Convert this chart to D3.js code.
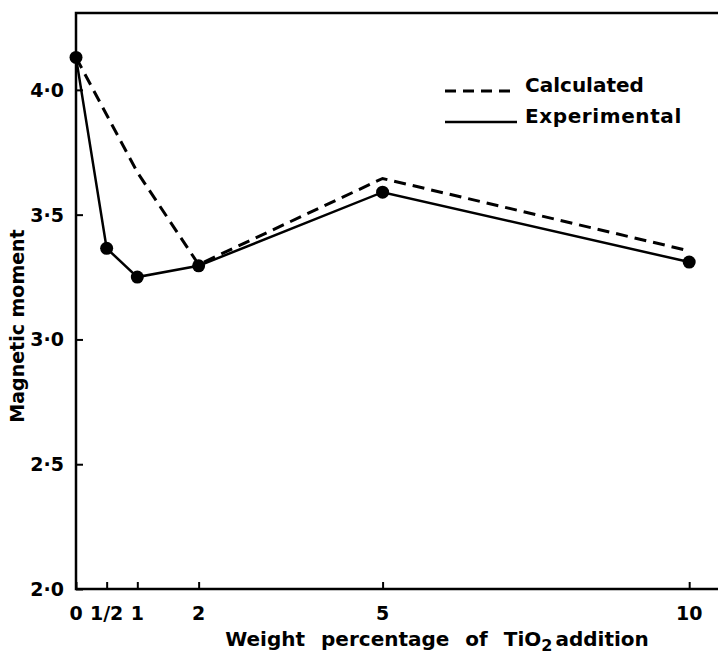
<!DOCTYPE html>
<html>
<head>
<meta charset="utf-8">
<script src="https://cdn.jsdelivr.net/npm/d3@7"></script>
<style>
  body { margin: 0; background: #fff; }
  svg text { font-family: "DejaVu Sans", sans-serif; font-weight: bold; fill: #000; }
</style>
</head>
<body>
<div id="chart"></div>
<script>
// data
const expX = [0, 0.5, 1, 2, 5, 10];
const expY = [4.13, 3.365, 3.25, 3.295, 3.59, 3.31];
const calcX = [0, 1, 2, 5, 10];
const calcY = [4.13, 3.67, 3.30, 3.645, 3.355];
const xTicks = [0, 0.5, 1, 2, 5, 10];
const xTickLabels = ["0", "1/2", "1", "2", "5", "10"];
const yTicks = [2.0, 2.5, 3.0, 3.5, 4.0];
const yTickLabels = ["2·0", "2·5", "3·0", "3·5", "4·0"];

const width = 718, height = 654;
const mLeft = 76, mRight = 718, mTop = 13, mBottom = 589;

const svg = d3.select("#chart").append("svg")
    .attr("width", width)
    .attr("height", height);

const x = d3.scaleLinear().domain([0, 10.47]).range([mLeft, mRight]);
const y = d3.scaleLinear().domain([2, 4.308]).range([mBottom, mTop]);

// frame: left axis, bottom axis, top line
svg.append("path")
    .attr("d", `M${mRight},${mTop}H${mLeft}V${mBottom}H${mRight}`)
    .attr("fill", "none")
    .attr("stroke", "#000")
    .attr("stroke-width", 2.5);

// y ticks (pointing inward)
const yAxis = d3.axisRight(y)
    .tickValues(yTicks)
    .tickSize(7)
    .tickFormat(() => "");
const gy = svg.append("g").attr("transform", `translate(${mLeft},0)`).call(yAxis);
gy.select(".domain").remove();
gy.selectAll("line").attr("stroke-width", 2);

svg.selectAll(".ylab")
    .data(yTicks)
    .enter().append("text")
    .attr("class", "ylab")
    .attr("x", 64)
    .attr("y", d => y(d) + 7)
    .attr("text-anchor", "end")
    .attr("font-size", 19)
    .text((d, i) => yTickLabels[i]);

// x ticks (pointing up)
const xAxis = d3.axisTop(x)
    .tickValues(xTicks)
    .tickSize(7)
    .tickFormat(() => "");
const gx = svg.append("g").attr("transform", `translate(0,${mBottom})`).call(xAxis);
gx.select(".domain").remove();
gx.selectAll("line").attr("stroke-width", 2);

svg.selectAll(".xlab")
    .data(xTicks)
    .enter().append("text")
    .attr("class", "xlab")
    .attr("x", d => x(d))
    .attr("y", 620)
    .attr("text-anchor", "middle")
    .attr("font-size", 19)
    .text((d, i) => xTickLabels[i]);

// axis titles
svg.append("text")
    .attr("transform", "translate(24,326) rotate(-90)")
    .attr("text-anchor", "middle")
    .attr("font-size", 19)
    .text("Magnetic moment");

const xt = svg.append("text")
    .attr("x", 437)
    .attr("y", 646)
    .attr("text-anchor", "middle")
    .attr("font-size", 20)
    .attr("word-spacing", 9);
xt.append("tspan").text("Weight percentage of TiO");
xt.append("tspan").attr("dy", 5).attr("font-size", 16).text("2");
xt.append("tspan").attr("dy", -5).attr("dx", 3).text("addition");

const line = d3.line().x(d => x(d[0])).y(d => y(d[1]));

// calculated (dashed)
svg.append("path")
    .datum(d3.zip(calcX, calcY))
    .attr("d", line)
    .attr("fill", "none")
    .attr("stroke", "#000")
    .attr("stroke-width", 3)
    .attr("stroke-dasharray", "12,7");

// experimental (solid)
const exp = d3.zip(expX, expY);
svg.append("path")
    .datum(exp)
    .attr("d", line)
    .attr("fill", "none")
    .attr("stroke", "#000")
    .attr("stroke-width", 2.5);

svg.selectAll(".dot")
    .data(exp)
    .enter().append("circle")
    .attr("class", "dot")
    .attr("cx", d => x(d[0]))
    .attr("cy", d => y(d[1]))
    .attr("r", 6.5)
    .attr("fill", "#000");

// legend
svg.append("line")
    .attr("x1", 445).attr("x2", 517)
    .attr("y1", 91).attr("y2", 91)
    .attr("stroke", "#000").attr("stroke-width", 3)
    .attr("stroke-dasharray", "11,7");
svg.append("text")
    .attr("x", 525).attr("y", 92)
    .attr("font-size", 20)
    .text("Calculated");
svg.append("line")
    .attr("x1", 445).attr("x2", 517)
    .attr("y1", 122).attr("y2", 122)
    .attr("stroke", "#000").attr("stroke-width", 2.5);
svg.append("text")
    .attr("x", 525).attr("y", 123)
    .attr("font-size", 20)
    .attr("letter-spacing", 0.6)
    .text("Experimental");
</script>
</body>
</html>
